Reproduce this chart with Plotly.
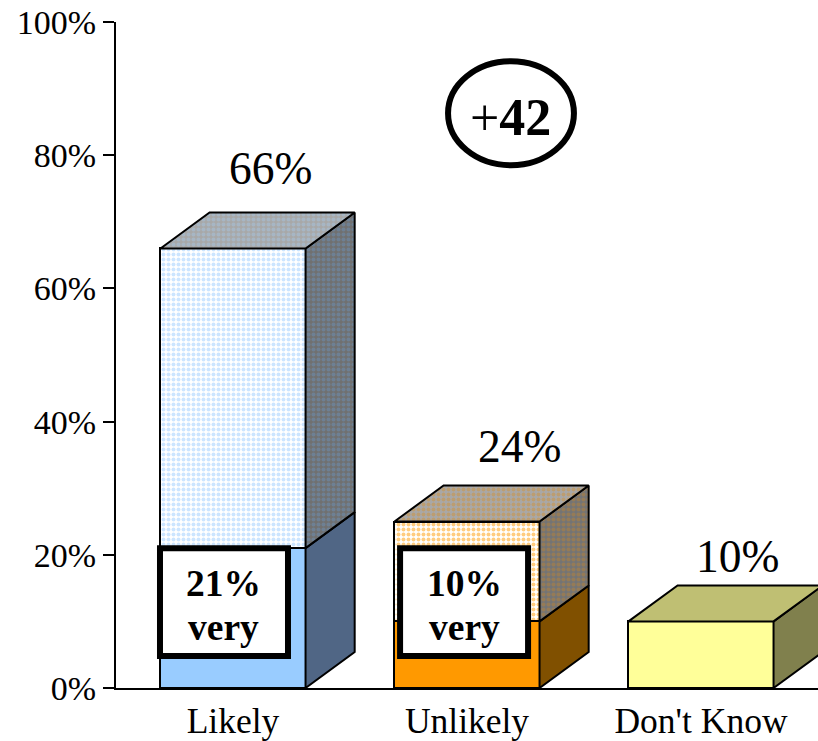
import plotly.graph_objects as go

categories = ["Likely", "Unlikely", "Don't Know"]
very_values = [21, 10, 10]
rest_values = [45, 15, 0]
total_labels = ["66%", "24%", "10%"]
very_numbers = ["21%", "10%"]
y_ticks = [0, 20, 40, 60, 80, 100]
y_tick_labels = ["0%", "20%", "40%", "60%", "80%", "100%"]

FONT = "Liberation Serif"
BAR_WIDTH = 0.62
DEPTH_X = 0.21
DEPTH_Y = 5.4

# front, top and side colours per bar
dot_colors = ["#99CCFF", "#FF9900", "#FFFF99"]
top_colors = ["#A8A8A8", "#A8A8A8", "#BFBF73"]
top_dots = ["#A6C3E0", "#D0923A", None]
side_colors = ["#707070", "#747474", "#80804D"]
side_dots = ["#6C8FB5", "#B5813A", None]
lower_side_colors = ["#506685", "#805000", "#80804D"]

# where the total labels sit relative to each bar's top back edge
label_dx = [0.162, 0.226, 0.154]
label_dy = [6.6, 5.9, 4.35]

x_pos = list(range(len(categories)))


def face_trace(points, color, dots=None):
    xs, ys = zip(*points)
    trace = go.Scatter(
        x=xs + (xs[0],),
        y=ys + (ys[0],),
        mode="lines",
        fill="toself",
        fillcolor=color,
        line=dict(color="black", width=2),
        hoverinfo="skip",
        showlegend=False,
    )
    if dots:
        trace.fillpattern = dict(shape=".", bgcolor=color, fgcolor=dots, size=5, solidity=0.5)
    return trace


fig = go.Figure()

# front faces
fig.add_trace(go.Bar(
    x=x_pos, y=very_values, width=BAR_WIDTH,
    marker=dict(color=dot_colors, line=dict(color="black", width=2)),
    showlegend=False,
))
fig.add_trace(go.Bar(
    x=x_pos, y=rest_values, width=BAR_WIDTH,
    marker=dict(
        color="white",
        line=dict(color="black", width=2),
        pattern=dict(shape=".", bgcolor="white", fgcolor=dot_colors, size=5, solidity=0.5),
    ),
    showlegend=False,
))

# side and top faces, built from the same values as the bars
for i, x in enumerate(x_pos):
    left = x - BAR_WIDTH / 2
    right = x + BAR_WIDTH / 2
    very = very_values[i]
    total = very + rest_values[i]
    fig.add_trace(face_trace(
        [(right, 0), (right + DEPTH_X, DEPTH_Y), (right + DEPTH_X, very + DEPTH_Y), (right, very)],
        lower_side_colors[i],
    ))
    if rest_values[i] > 0:
        fig.add_trace(face_trace(
            [(right, very), (right + DEPTH_X, very + DEPTH_Y), (right + DEPTH_X, total + DEPTH_Y), (right, total)],
            side_colors[i], side_dots[i],
        ))
    fig.add_trace(face_trace(
        [(left, total), (left + DEPTH_X, total + DEPTH_Y), (right + DEPTH_X, total + DEPTH_Y), (right, total)],
        top_colors[i], top_dots[i],
    ))

    fig.add_annotation(
        x=x + label_dx[i], y=total + DEPTH_Y + label_dy[i], text=total_labels[i], showarrow=False,
        xanchor="center", yanchor="middle", font=dict(family=FONT, size=45.5, color="black"),
    )

# "very" call-out boxes
box_spans = [(-0.312, 0.235), (0.714, 1.261)]
for (x0, x1), number in zip(box_spans, very_numbers):
    fig.add_shape(type="rect", x0=x0, x1=x1, y0=4.8, y1=21,
                  fillcolor="white", line=dict(color="black", width=6))
    for line_y, line_text in ((15.7, number), (9.1, "very")):
        fig.add_annotation(
            x=(x0 + x1) / 2, y=line_y, text="<b>%s</b>" % line_text, showarrow=False,
            font=dict(family=FONT, size=37.5, color="black"),
        )

# net score ellipse
fig.add_shape(type="circle", x0=0.919, x1=1.457, y0=78.5, y1=94.1,
              fillcolor="white", line=dict(color="black", width=6))
fig.add_annotation(
    x=1.188, y=85.7, text="+<b>42</b>", showarrow=False,
    font=dict(family=FONT, size=52, color="black"),
)

fig.update_layout(
    barmode="stack",
    width=818,
    height=741,
    autosize=False,
    margin=dict(l=116, r=0, t=22, b=53),
    paper_bgcolor="white",
    plot_bgcolor="white",
    showlegend=False,
    xaxis=dict(
        range=[-0.5, 2.5],
        tickvals=x_pos,
        ticktext=categories,
        showgrid=False,
        zeroline=False,
        showline=True,
        linecolor="black",
        linewidth=2,
        ticks="",
        tickfont=dict(family=FONT, size=35.5, color="black"),
    ),
    yaxis=dict(
        range=[0, 100],
        tickvals=y_ticks,
        ticktext=y_tick_labels,
        showgrid=False,
        zeroline=False,
        showline=True,
        linecolor="black",
        linewidth=2,
        ticks="outside",
        ticklen=11,
        tickwidth=2,
        tickcolor="black",
        tickfont=dict(family=FONT, size=34, color="black"),
    ),
)

# the default page body margin would push the figure 8px in from the corner
fig.write_html(
    "out.html",
    config=dict(displayModeBar=False),
    post_script="document.body.style.margin = '0';",
)
